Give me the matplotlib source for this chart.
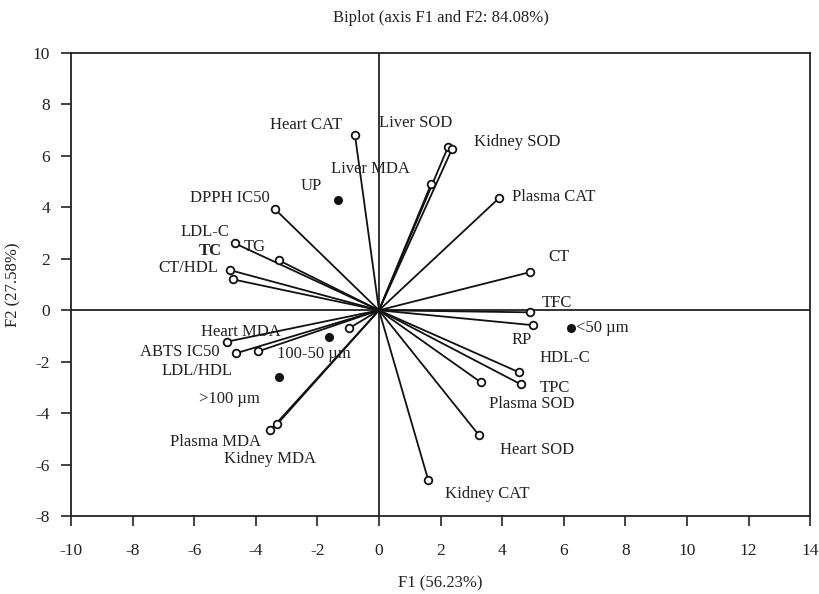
import matplotlib
matplotlib.use("Agg")
import matplotlib.pyplot as plt

plt.rcParams['font.family'] = ['Liberation Serif', 'DejaVu Serif']
plt.rcParams['axes.unicode_minus'] = False

# variable vectors (F1, F2)
var_names = ['Heart CAT', 'Liver SOD', 'Kidney SOD', 'Liver MDA', 'Plasma CAT', 'CT', 'TFC',
             'DPPH IC50', 'LDL-C', 'TG', 'CT/HDL', 'TC', 'Heart MDA', 'ABTS IC50', 'LDL/HDL', '',
             'Plasma MDA', 'Kidney MDA', 'RP', 'HDL-C', 'TPC', 'Plasma SOD', 'Heart SOD', 'Kidney CAT']
var_x = [-0.78, 2.24, 2.37, 1.69, 3.90, 4.90, 4.90,
         -3.38, -4.68, -3.25, -4.84, -4.74, -4.93, -4.64, -3.93, -0.97,
         -3.54, -3.31, 5.00, 4.55, 4.61, 3.31, 3.25, 1.60]
var_y = [6.81, 6.34, 6.26, 4.90, 4.36, 1.48, -0.08,
         3.93, 2.60, 1.94, 1.56, 1.20, -1.22, -1.67, -1.60, -0.70,
         -4.67, -4.43, -0.58, -2.41, -2.88, -2.80, -4.86, -6.60]
# label positions
lab_x = [-2.37, 1.20, 4.50, -0.29, 5.66, 5.85, 5.77,
         -4.84, -5.65, -4.03, -6.20, -5.49, -4.48, -6.46, -5.90, None,
         -5.30, -3.54, 4.63, 6.04, 5.70, 4.97, 5.13, 3.50]
lab_y = [7.20, 7.28, 6.54, 5.49, 4.40, 2.06, 0.30,
         4.36, 3.03, 2.45, 1.64, 2.30, -0.86, -1.63, -2.37, None,
         -5.13, -5.76, -1.17, -1.87, -3.02, -3.66, -5.41, -7.12]

# observations
obs_names = ['UP', '100-50 \u00b5m', '>100 \u00b5m', '<50 \u00b5m']
obs_x = [-1.33, -1.62, -3.25, 6.23]
obs_y = [4.28, -1.04, -2.60, -0.70]
obs_lx = [-2.20, -2.11, -4.84, 7.24]
obs_ly = [4.83, -1.71, -3.46, -0.70]

fig = plt.figure(figsize=(8.2, 5.94), dpi=100)
ax = fig.add_axes([0.0866, 0.131, 0.9014, 0.780])

ax.axhline(0, color='#222222', lw=1.3, zorder=1)
ax.axvline(0, color='#222222', lw=1.3, zorder=1)

for i in range(len(var_names)):
    ax.plot([0, var_x[i]], [0, var_y[i]], color='#111111', lw=1.3, zorder=2)
    ax.plot(var_x[i], var_y[i], 'o', ms=5.5, mfc='white', mec='#111111', mew=1.3, zorder=3)
    if var_names[i]:
        w = 'bold' if var_names[i] == 'TC' else 'normal'
        ax.text(lab_x[i], lab_y[i], var_names[i], fontsize=12, ha='center', va='center',
                color='#222222', fontweight=w)

ax.plot(obs_x, obs_y, 'o', ms=5.5, color='#111111', zorder=3)
for i in range(len(obs_names)):
    ax.text(obs_lx[i], obs_ly[i], obs_names[i], fontsize=12, ha='center', va='center',
            color='#222222')

ax.set_xlim(-10, 14)
ax.set_ylim(-8, 10)
ax.set_xticks(range(-10, 15, 2))
ax.set_yticks(range(-8, 11, 2))
ax.tick_params(direction='out', length=7, width=1.2, labelsize=12.5, colors='#222222')
ax.tick_params(axis='x', pad=12)
ax.tick_params(axis='y', pad=8)
for s in ax.spines.values():
    s.set_linewidth(1.3)
    s.set_color('#222222')

ax.set_title('Biplot (axis F1 and F2: 84.08%)', fontsize=12, pad=22, color='#222222')
ax.set_xlabel('F1 (56.23%)', fontsize=12, labelpad=12, color='#222222')
ax.set_ylabel('F2 (27.58%)', fontsize=12, labelpad=8, color='#222222')

fig.savefig('out.png', dpi=100)
